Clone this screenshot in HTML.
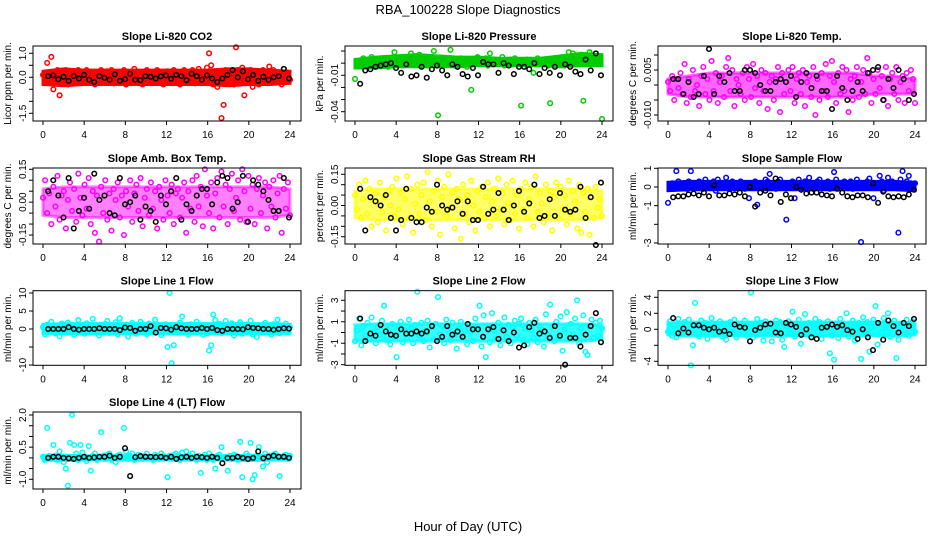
<!DOCTYPE html>
<html><head><meta charset="utf-8"><style>
html,body{margin:0;padding:0;background:#fff;}
svg{display:block;font-family:"Liberation Sans",Arial,sans-serif;}
</style></head><body>
<svg id="chart" width="936" height="540" viewBox="0 0 936 540">
<text x="468" y="14" text-anchor="middle" font-size="13">RBA_100228  Slope Diagnostics</text>
<text x="468" y="531" text-anchor="middle" font-size="13">Hour of Day (UTC)</text>
</svg>
<script>
const xTicks=[0,4,8,12,16,20,24];
const titles=["Slope Li-820 CO2","Slope Li-820 Pressure","Slope Li-820 Temp.","Slope Amb. Box Temp.","Slope Gas Stream RH","Slope Sample Flow","Slope Line 1 Flow","Slope Line 2 Flow","Slope Line 3 Flow","Slope Line 4 (LT) Flow"];
const yTitles=["Licor ppm per min.","kPa per min.","degrees C per min.","degrees C per min.","percent per min.","ml/min per min.","ml/min per min.","ml/min per min.","ml/min per min.","ml/min per min."];
const colors=["#ff0000","#00cd00","#ff00ff","#ff00ff","#ffff00","#0000ff","#00ffff","#00ffff","#00ffff","#00ffff"];
const bandOpacity=[1,1,0.6,0.5,0.6,1,1,0.8,0.9,1];
const yTicks=[[1,0.5,0,-0.5,-1,-1.5],[0.01,0,-0.01,-0.02,-0.03,-0.04],[0.01,0.005,0,-0.005,-0.01],[0.15,0.1,0.05,0,-0.05,-0.1,-0.15],[0.15,0.1,0.05,0,-0.05,-0.1,-0.15],[1,0,-1,-2,-3],[10,5,0,-5,-10],[3,2,1,0,-1,-2,-3],[4,2,0,-2,-4],[2,1.5,1,0.5,0,-0.5,-1]];
const yTickLabels=[["1.0","","0.0","","","-1.5"],["","","-0.01","","","-0.04"],["","0.005","","","-0.010"],["0.15","","","0.00","","","-0.15"],["0.15","","","0.00","","","-0.15"],["1","0","-1","","-3"],["10","5","0","","-10"],["3","","1","","-1","","-3"],["4","2","0","","-4"],["2.0","","","0.5","","","-1.0"]];
const yRange=[[1,0,53.3,77.3],[0.01,-0.04,51,111.7],[0.01,-0.01,55,115],[0.15,-0.15,169.3,235],[0.15,-0.15,174.3,236.7],[1,-3,168.3,243],[10,-10,293,365],[3,-3,300.3,364.7],[4,-4,297.3,361.3],[2,-1,415,479.3]];
// dense-core envelope of each colored cloud at hours 0,2,...,24
const bandHours=[0,2,4,6,8,10,12,14,16,18,20,22,24];
const bandLo=[[-0.3,-0.35,-0.3,-0.3,-0.3,-0.3,-0.3,-0.3,-0.3,-0.35,-0.3,-0.3,-0.25],[-.004,-.004,-.003,-.003,-.003,-.003,-.002,-.002,-.002,-.002,-.003,-.002,-.002],[-.003,-.004,-.004,-.004,-.004,-.004,-.004,-.004,-.004,-.004,-.003,-.003,-.003],[-.06,-.07,-.07,-.07,-.07,-.07,-.07,-.07,-.07,-.07,-.07,-.07,-.06],[-.06,-.07,-.07,-.07,-.07,-.07,-.07,-.07,-.07,-.07,-.07,-.07,-.06],[-.2,-.15,-.15,-.15,-.15,-.15,-.15,-.15,-.15,-.15,-.15,-.15,-.2],[-1.2,-1.3,-1.3,-1.3,-1.3,-1.3,-1.3,-1.3,-1.3,-1.3,-1.3,-1.3,-1.2],[-.8,-.8,-.8,-.8,-.8,-.8,-.8,-.8,-.8,-.8,-.8,-.8,-.7],[-.7,-.8,-.8,-.8,-.8,-.8,-.8,-.8,-.8,-.8,-.8,-.8,-.7],[-.1,-.12,-.1,-.1,-.1,-.1,-.1,-.1,-.1,-.1,-.12,-.1,-.1]];
const bandHi=[[0.25,0.35,0.3,0.3,0.3,0.3,0.3,0.3,0.3,0.35,0.35,0.3,0.25],[.003,.005,.006,.007,.006,.005,.005,.004,.004,.004,.006,.008,.007],[.002,.003,.004,.004,.004,.004,.004,.004,.004,.004,.003,.003,.002],[.06,.07,.07,.07,.07,.07,.07,.07,.07,.07,.07,.07,.06],[.07,.08,.08,.08,.08,.08,.08,.08,.08,.08,.08,.08,.07],[.25,.3,.3,.3,.3,.3,.3,.3,.3,.3,.3,.3,.25],[1.3,1.5,1.5,1.5,1.5,1.5,1.5,1.5,1.5,1.5,1.5,1.5,1.3],[.7,.8,.8,.8,.8,.8,.8,.8,.8,.8,.8,.8,.7],[.8,.9,.9,.9,.9,.9,.9,.9,.9,.9,.9,.9,.8],[.1,.12,.1,.1,.1,.1,.1,.1,.1,.1,.12,.1,.1]];
const p1c=[0.1,-0.2,0.6,0.2,0.85,-0.5,0.1,0.3,-0.75,0.2,-0.1,0.3,-0.3,0.1,0.25,-0.2,0.0,0.3,-0.15,0.2,-0.1,0.3,-0.2,0.1,0.2,-0.3,0.15,0.0,0.3,-0.2,0.1,0.25,-0.1,0.3,-0.25,0.1,0.2,-0.2,0.0,0.3,-0.3,0.2,0.1,-0.1,0.35,-0.2,0.1,0.2,-0.3,0.0,0.3,-0.15,0.2,-0.2,0.1,0.3,-0.1,0.2,-0.3,0.1,0.25,-0.2,0.0,0.3,-0.1,0.2,-0.3,0.1,0.3,-0.2,0.15,0.0,0.3,-0.25,0.1,0.35,-0.2,0.2,-0.1,0.4,1.0,0.5,-0.3,0.2,-0.4,0.1,-1.7,-1.15,0.3,-0.2,0.1,0.2,-0.3,1.25,0.3,-0.2,0.4,-0.75,0.2,-0.1,0.3,-0.4,0.1,0.2,-0.3,0.0,0.3,-0.2,0.2,0.45,-0.1,0.3,-0.2,0.1,0.2,-0.3,0.35,0.0,0.2,-0.1];
const p1k=[0.05,0.08,-0.08,0.02,-0.15,0.06,-0.05,0.1,-0.1,-0.2,0.05,-0.02,-0.1,0.12,-0.15,-0.08,0.15,-0.1,-0.12,0.05,0.02,-0.05,0.04,0.08,-0.06,0.1,0.05,-0.12,0.15,0.05,-0.1,0.08,-0.05,-0.2,-0.05,0.1,0.3,0.0,0.25,-0.08,0.1,-0.15,0.02,-0.1,0.0,0.05,0.35,-0.05];
const p2c=[-.013,0,.002,-.002,.004,.001,-.001,.003,.005,0,.002,-.002,.001,.004,-.001,.002,-.003,.003,0,.009,.001,-.001,.003,-.002,.002,.005,0,.008,.001,.003,-.001,.007,.002,0,.005,-.002,.003,.001,.010,-.001,-.043,.002,0,.004,-.001,.002,.011,.001,-.002,.003,0,.004,-.001,.002,-.003,.001,-.022,.003,0,.005,-.001,.002,0,.004,-.002,.008,.001,.003,-.001,.002,0,.005,-.002,.002,.001,.003,-.001,.004,0,.002,-.035,.001,-.001,.003,0,.002,-.008,.001,.004,-.001,.002,0,.003,-.002,-.033,.001,.004,-.001,.002,0,.003,-.002,.005,.009,.001,.008,0,.004,-.001,.007,-.031,.002,0,.009,.003,-.001,.008,.001,.004,-.046];
const p2k=[-.017,-.006,-.005,-.003,-.002,-.001,.000,-.004,-.008,-.001,-.011,-.010,-.003,-.012,-.005,-.002,-.006,-.010,-.001,-.003,-.009,-.011,-.004,-.010,.001,-.001,-.001,-.008,.000,-.002,-.009,-.003,-.003,-.005,.000,-.009,-.004,-.008,-.003,-.010,-.001,-.003,-.007,-.009,.003,-.006,.008,-.010];
const p3c=[.001,-.002,.003,-.005,.002,-.001,.004,-.003,.007,-.006,.002,-.004,.005,-.002,.000,-.007,.003,.006,-.003,.002,-.005,.008,-.002,.004,-.006,.001,.003,-.004,.006,.009,-.002,.005,-.007,.002,.000,-.003,.004,-.005,.006,.002,-.004,.007,-.001,.003,-.006,.005,-.002,.004,-.008,.001,.003,-.005,.002,.006,-.009,.004,-.003,.001,.005,-.002,.006,-.006,.002,.004,-.003,.005,-.007,.001,.003,-.004,.006,-.010,.002,-.005,.004,-.002,.007,-.004,.003,.008,.001,-.006,.004,-.003,.006,-.002,.005,-.009,.002,-.005,.003,.006,-.004,.001,.005,-.003,.009,.004,-.006,.002,-.003,.005,-.001,.003,-.005,.006,-.007,.002,.004,-.003,.006,-.005,.001,.003,-.006,.004,-.002,.005,.002,-.006];
const p3k=[.002,.002,-.003,.001,-.004,-.003,.003,.012,-.003,.003,.001,.004,-.002,-.002,.005,.005,.004,.000,-.002,-.002,.001,.002,.001,.003,-.004,.001,.004,-.001,.003,-.002,-.002,-.008,.003,-.001,-.005,-.002,.001,-.002,.004,.005,.006,-.005,.002,-.001,.005,.002,-.005,-.003];
const p4c=[.02,.1,-.05,.04,-.1,.07,-.02,.12,-.08,.03,.05,-.12,.01,.09,-.04,.06,-.09,.13,.02,-.06,.08,-.03,.11,-.1,.05,-.14,.03,-.18,.07,-.05,.1,-.08,.04,-.13,.06,.01,.09,-.07,.03,-.15,.05,-.02,.1,-.09,.04,.08,-.04,.11,-.11,.02,.06,-.06,.09,-.03,.05,-.12,.07,.01,-.08,.1,.03,-.05,.08,-.1,.04,.06,-.07,.02,.09,-.14,.05,-.03,.1,-.09,.12,-.02,.07,-.11,.15,.03,-.05,.09,-.12,.04,.11,-.07,.14,-.02,.08,-.1,.06,.13,-.04,.02,.1,-.08,.15,.05,-.09,.12,-.03,.08,-.1,.06,.11,-.05,.03,.09,-.12,.07,-.02,.1,-.07,.04,.12,-.14,.06,-.03,.09,-.06];
const p4k=[.05,.1,.03,-.07,.11,-.12,-.04,.02,-.03,.13,.01,.03,-.05,-.06,.11,-.01,.0,.03,-.08,-.02,-.04,-.09,.03,-.01,.05,.11,-.08,-.01,-.04,.03,.06,.06,-.01,.09,.12,.11,-.03,.0,.12,-.09,.1,.08,.05,.01,-.04,-.04,.11,-.07];
const p5c=[.05,-.02,.1,-.06,.03,.12,-.04,.08,-.1,.02,.06,-.08,.11,-.03,.04,-.12,.07,.0,.09,-.05,.13,-.02,.06,-.09,.03,.14,-.06,.08,-.13,.01,.1,-.04,.05,.11,-.07,.16,.02,-.1,.07,-.03,.12,-.14,.04,.09,-.05,.15,-.01,.06,-.11,.08,.03,-.16,.1,-.04,.05,-.08,.12,.0,-.12,.07,-.03,.09,-.06,.04,.11,-.1,.02,.08,-.05,.13,-.02,.06,-.09,.1,.01,-.07,.12,-.04,.05,-.11,.08,-.02,.11,-.06,.03,.09,-.1,.14,-.03,.06,.01,-.08,.1,-.05,.07,-.12,.04,.11,-.06,.09,-.02,.05,-.09,.12,-.04,.07,.02,-.11,.1,-.13,.06,-.03,.08,-.14,.04,-.06,.09,-.01,.03,-.05];
const p5k=[.08,-.12,.04,.02,.0,.05,-.06,-.12,-.07,.08,-.06,-.08,-.08,-.01,-.03,.1,.0,-.02,-.01,.02,-.04,.02,-.07,-.07,.09,-.04,-.02,.06,-.02,-.07,.0,.07,-.03,.01,.1,-.06,-.05,.03,-.05,.06,-.02,-.03,-.02,.09,-.06,.04,-.19,.11];
const p6c=[-.85,.1,.2,-.1,.85,.3,.1,.0,.2,-.1,.3,.85,.1,.2,.0,.3,.1,-.1,.4,.2,.0,.1,.3,-.2,.4,.1,.2,.0,.5,.1,-.1,.3,.2,.1,.0,.3,.2,-.1,.1,-.6,.2,.1,.3,-.95,.1,.2,.0,.4,.3,.7,.1,.2,-.1,.3,.4,.1,.0,-1.75,.2,.1,.3,-.6,.1,.4,.0,.2,.3,.1,.5,.2,-.1,.1,.3,.4,.0,.2,.1,.3,-.1,.2,.8,.4,.1,.2,.0,.3,.1,.2,.3,-.1,.2,.4,.1,-2.95,.2,.0,.3,.45,.1,-.6,.2,.1,.6,.3,-.2,.2,.5,.1,.3,.0,.2,-2.45,.4,.85,.1,.3,.6,.2,.1,.2];
const p6k=[-.55,-.5,-.5,-.4,-.35,-.45,-.3,-.5,.1,-.45,-.45,-.35,-.4,-.3,-.5,.0,-1.05,-.3,-.2,-.45,.45,-.8,-.4,-.6,.0,-.15,-.35,-.3,-.3,-.4,-.45,-.5,-.1,-.3,-.5,-.55,-.45,-.45,-.55,.2,-.85,-.25,-.5,-.55,-.5,-.55,-.4,-.15];
const p7c=[.5,-1.5,1.2,-.8,2,.3,-1.2,.8,-2,1.5,.2,-1,1.8,-.5,.6,-1.6,1,2.5,-.7,.4,-1.3,1.6,.1,-.9,2.8,-.4,1.1,-1.8,.7,-.2,1.4,2.2,-1.1,.5,-.6,1.9,-1.5,3,.3,-.8,1.2,-2.1,.6,1.7,-.4,-1.3,.9,2,-.7,.2,-1.4,1.5,.4,-.9,2.6,-.3,1.1,-1.7,.8,1.3,-5,10,-9.5,-4.5,.5,-1,1.8,3.5,-.6,.9,-1.5,1.3,.2,-.8,2,-.2,1.1,-1.6,.6,-1.2,-6,-4.5,4,2.5,-.5,1.4,-1.1,.7,2.2,-.9,.3,1.6,-1.8,.8,-.4,1.9,-1.3,.5,1.2,-.7,2.3,-1.5,.6,-2.2,1,.1,-1,1.7,-.5,.9,-1.6,1.3,.4,2.6,-1.2,.7,-.3,1.5,-.9,.5];
const p7k=[0,0,0,0,.5,0,-.2,0,0,0,.2,0,0,0,-.3,.4,.3,-.5,0,0,.8,-1,.3,.2,-.2,.5,.2,0,0,0,.3,0,.3,-.3,-.5,0,0,0,-.1,.5,.3,.2,0,0,-.2,0,.2,.1];
const p8c=[-.8,.2,1.3,-1.2,.6,-.3,.9,-.6,1.4,.1,-1,.5,-.2,1.1,2.5,-.7,.3,-1.1,.8,-.4,-2.3,.6,1,-.9,.2,-.5,1.2,.4,-1,.7,3.8,-.3,.9,-.8,.1,1.1,-1.4,.5,-.6,.8,3.3,-.2,.6,-1,1.2,.3,-.7,.9,-.2,-1.5,.4,1,-.5,.2,-1.1,.7,.1,-.8,1.3,.5,2.5,-1.3,1.6,-2.3,.4,-.9,1.8,.2,-.6,.9,-1.2,.3,1.4,-.4,.7,-1,.5,1.1,-.3,.8,1.3,-.7,.4,-1.1,.9,.2,-.5,1.2,-.9,.6,.3,-1.3,1.7,-.2,2.6,.5,-.8,1,-.4,1.5,-1.7,.3,1.9,-.6,.8,-.2,1.3,3,-1,.4,1.6,-1.8,-2.1,.6,1.2,-.5,.9,-.3,1.1,.4];
const p8k=[1.3,-.8,-.1,-.3,.7,.1,-.2,-.3,.3,-.1,-.1,.1,-.1,.1,.6,-.8,-.4,.6,-.2,.1,-.4,.8,.3,.3,-.4,.3,.5,-.6,.2,-.8,.0,-1.4,-1.2,.5,.9,-.1,.1,-.5,.6,-.3,-3,-.5,-.5,-1.3,-.2,.6,1.8,-.9];
const p9c=[-.3,1,-.8,.5,-1,1.3,.2,-.6,.9,-.2,1.2,-4.5,-2,3.3,.6,-.9,1.1,-.4,.8,-1.2,.3,1.4,-.7,.5,-.1,1,-.9,.6,-1.3,.2,.9,-.5,1.2,-1,.4,.7,-.3,1.1,-.8,.2,4.6,-1,.5,1.3,-.6,.8,-1.4,1,-.2,.6,-1.5,.3,1.1,-.7,.9,-1.3,-2.2,.4,1,-.5,2.2,-.9,.7,1.2,-1.8,.3,1.9,-.6,.8,-1,.4,1.3,-.3,.9,-1.2,.6,.1,1,-3,-.8,-3.8,.7,-1.1,1.3,.4,-.6,2,-.9,.5,1.1,-1.4,.2,.8,-3.7,1.5,-.5,.9,-2.8,.3,1.2,2.9,-1.9,.6,-.4,1.4,.2,2,-.9,.5,1.1,-3.6,-1.3,.7,.3,-.6,1.2,-.8,.5,1,-.3];
const p9k=[1.4,-.5,.1,-.4,.5,.5,.2,.0,.2,-.3,-.2,-.6,.6,.3,.2,-1.5,-.1,.2,.6,.7,-.4,-.5,.8,.6,.3,-.7,.0,-1,-1.2,.2,.3,.6,.3,.5,-.1,-.3,-1.2,.0,-1,-2.6,.8,-1.3,1.1,.4,-.4,.8,.4,1.3];
const p10c=[.05,-.1,1.4,.1,-.05,.6,.1,-.1,.3,.05,-.2,-.5,-1.3,.7,2,.6,.2,-.1,.6,.25,.05,-.15,.55,-.6,.1,.2,-.1,.05,1.2,.1,-.05,.15,.2,-.1,.05,-.2,.1,.15,.05,1.4,.3,-.05,.1,.2,-.1,.05,.15,.1,-.05,.1,.2,.0,.05,-.1,.15,.1,-.05,.2,.1,.05,-.9,.1,-.05,.15,.2,.1,-.1,.25,.05,.3,.1,-.05,.2,.05,-.1,.1,-.7,.05,.15,-.1,.2,.05,-.1,-.5,.1,.15,.5,.0,.05,-.6,.1,-.05,.15,.1,-.1,.75,-.9,.05,.2,.1,.7,-1,-.8,.1,.5,.05,-.4,.2,-.2,.1,.05,.15,.2,.1,-.85,.05,.1,.15,-.05,.1];
const p10k=[0,.05,.05,0,-.02,-.05,0,.05,.0,.02,.05,.05,.1,.0,.05,.45,-.85,.03,.08,.05,.05,.03,.05,.0,.05,-.05,.02,.05,.0,.05,.03,.0,.05,.0,-.25,.0,.0,.05,.0,-.05,.0,.3,-.02,.05,.1,.05,.05,.0];
const colored=[p1c,p2c,p3c,p4c,p5c,p6c,p7c,p8c,p9c,p10c];
const blacks=[p1k,p2k,p3k,p4k,p5k,p6k,p7k,p8k,p9k,p10k];

const NS="http://www.w3.org/2000/svg";
const svg=document.getElementById('chart');
const colL=[33,345,658], rowTB=[[46,121],[168,244],[290.7,365.3],[412,489]];
function mk(tag,attrs,parent){const e=document.createElementNS(NS,tag);for(const k in attrs)e.setAttribute(k,attrs[k]);(parent||svg).appendChild(e);return e;}

for(let p=0;p<10;p++){
  const L=colL[p%3], T=rowTB[Math.floor(p/3)][0], B=rowTB[Math.floor(p/3)][1], R=L+268;
  const xs=h=>L+10+h*(247/24);
  const yr=yRange[p];
  const ys=v=>yr[2]+(v-yr[0])*(yr[3]-yr[2])/(yr[1]-yr[0]);
  const g=mk('g',{});
  
  
  const t=mk('text',{x:(L+R)/2,y:T-6,'text-anchor':'middle','font-size':'11','font-weight':'bold'},g);
  t.textContent=titles[p];
  
  
  const yt=mk('text',{transform:`translate(${L-22},${(T+B)/2}) rotate(-90)`,'text-anchor':'middle','font-size':'10'},g);
  yt.textContent=yTitles[p];
  
  
  // dense core band
  const top=bandHours.map((h,i)=>xs(h)+','+ys(bandHi[p][i]));
  const bot=bandHours.map((h,i)=>xs(h)+','+ys(bandLo[p][i])).reverse();
  const band=mk('polygon',{points:top.concat(bot).join(' '),fill:colors[p],'fill-opacity':bandOpacity[p],stroke:colors[p],'stroke-width':'3','stroke-opacity':bandOpacity[p]},g);
  
  
  const cg=mk('g',{fill:'none',stroke:colors[p],'stroke-width':'1.5'},g);
  
  
  const cv=colored[p];
  cv.forEach((v,i)=>{const c=mk('circle',{cx:xs(i*24/(cv.length-1)),cy:ys(v),r:2.3},cg);
    
    });
  const kg=mk('g',{fill:'none',stroke:'#000','stroke-width':'1.5'},g);
  
  
  const kv=blacks[p];
  kv.forEach((v,i)=>{const c=mk('circle',{cx:xs(0.5+i*23.4/(kv.length-1)),cy:ys(v),r:2.3},kg);
    
    });
  const box=mk('rect',{x:L,y:T,width:R-L,height:B-T,fill:'none',stroke:'#000','stroke-width':'1'},g);
  
  
  xTicks.forEach(h=>{const x=xs(h);mk('line',{x1:x,x2:x,y1:B,y2:B+4,stroke:'#000'},g);
    const lt=mk('text',{x:x,y:B+17,'text-anchor':'middle','font-size':'10'},g);lt.textContent=h;
    
    });
  yTicks[p].forEach((v,i)=>{const y=ys(v);mk('line',{x1:L-4,x2:L,y1:y,y2:y,stroke:'#000'},g);
    const s=yTickLabels[p][i];if(!s)return;
    const lt=mk('text',{transform:`translate(${L-7},${y}) rotate(-90)`,'text-anchor':'middle','font-size':'10'},g);lt.textContent=s;
    
    });
}
</script>
</body></html>
